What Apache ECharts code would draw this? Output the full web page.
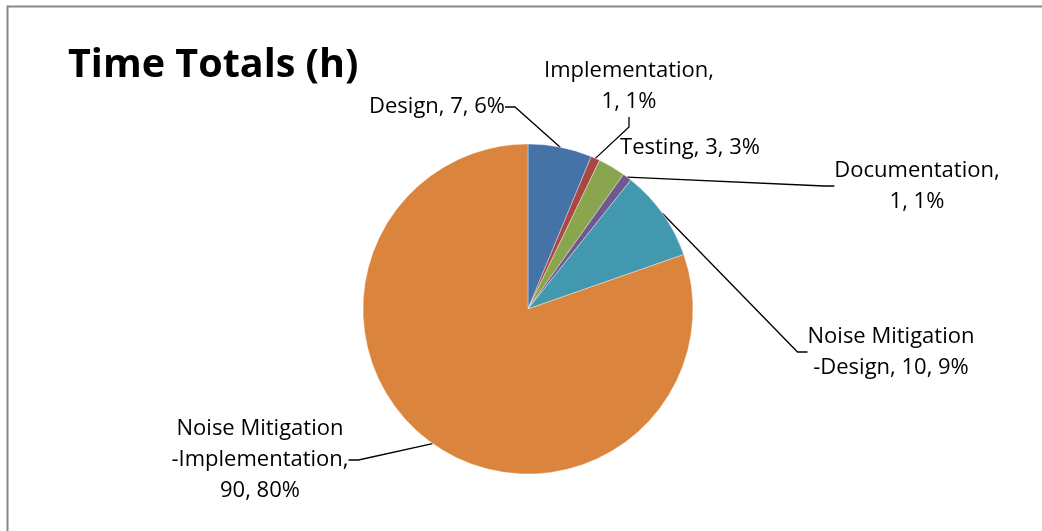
<!DOCTYPE html>
<html>
<head>
<meta charset="utf-8">
<script src="https://cdn.jsdelivr.net/npm/echarts@6/dist/echarts.min.js"></script>
<style>
html,body{margin:0;padding:0;background:#fff;}
#chart{width:1042px;height:531px;}
</style>
</head>
<body>
<div id="chart"></div>
<script>
const categories = ['Design', 'Implementation', 'Testing', 'Documentation', 'Noise Mitigation -Design', 'Noise Mitigation -Implementation'];
const hours = [7, 1, 3, 1, 10, 90];
const colors = ['#4572A7', '#AA4643', '#89A54E', '#71588F', '#4198AF', '#DB843D'];
const titleText = 'Time Totals (h)';

const total = hours.reduce((a, b) => a + b, 0);
const labelPos = [[437, 107], [629, 86], [690, 148], [917, 186], [891, 352], [260, 460]];
const noLeader = ['Testing'];

function labelText(name, value) {
  const parts = name.split(' -');
  const pct = Math.round(value / total * 100);
  let txt = parts.length > 1 ? parts[0] + '\n-' + parts[1] : parts[0];
  const last = parts[parts.length - 1];
  txt += (last.length > 12 ? ',\n' : ', ') + value + ', ' + pct + '%';
  return txt;
}

const chart = echarts.init(document.getElementById('chart'), null, {renderer: 'canvas'});
chart.setOption({
  animation: false,
  backgroundColor: '#fff',
  title: {
    text: titleText,
    left: 63,
    top: 41,
    textStyle: {fontFamily: 'Open Sans', fontWeight: 'bold', fontSize: 39.5, color: '#000'}
  },
  graphic: [{
    type: 'rect', left: 5, top: 4, z: -1,
    shape: {width: 1100, height: 600},
    style: {fill: 'none', stroke: '#888', lineWidth: 2}
  }],
  series: [{
    type: 'pie',
    center: [528, 309],
    radius: 165,
    startAngle: 90,
    clockwise: true,
    avoidLabelOverlap: false,
    data: categories.map((c, i) => {
      const d = {name: c, value: hours[i], itemStyle: {color: colors[i]}};
      if (noLeader.indexOf(c) >= 0) d.labelLine = {show: false};
      return d;
    }),
    itemStyle: {borderColor: 'rgba(255,255,255,0.6)', borderWidth: 0.6},
    label: {
      show: true,
      position: 'outside',
      fontFamily: 'Open Sans',
      fontSize: 22,
      lineHeight: 31,
      color: '#000',
      align: 'center',
      formatter: p => labelText(p.name, p.value)
    },
    labelLine: {show: true, length: 10, length2: 10, lineStyle: {color: '#000', width: 1.3}},
    labelLayout: function (params) {
      const pos = labelPos[params.dataIndex];
      return {x: pos[0], y: pos[1], align: 'center', verticalAlign: 'middle'};
    },
    emphasis: {disabled: true}
  }]
});
</script>
</body>
</html>
